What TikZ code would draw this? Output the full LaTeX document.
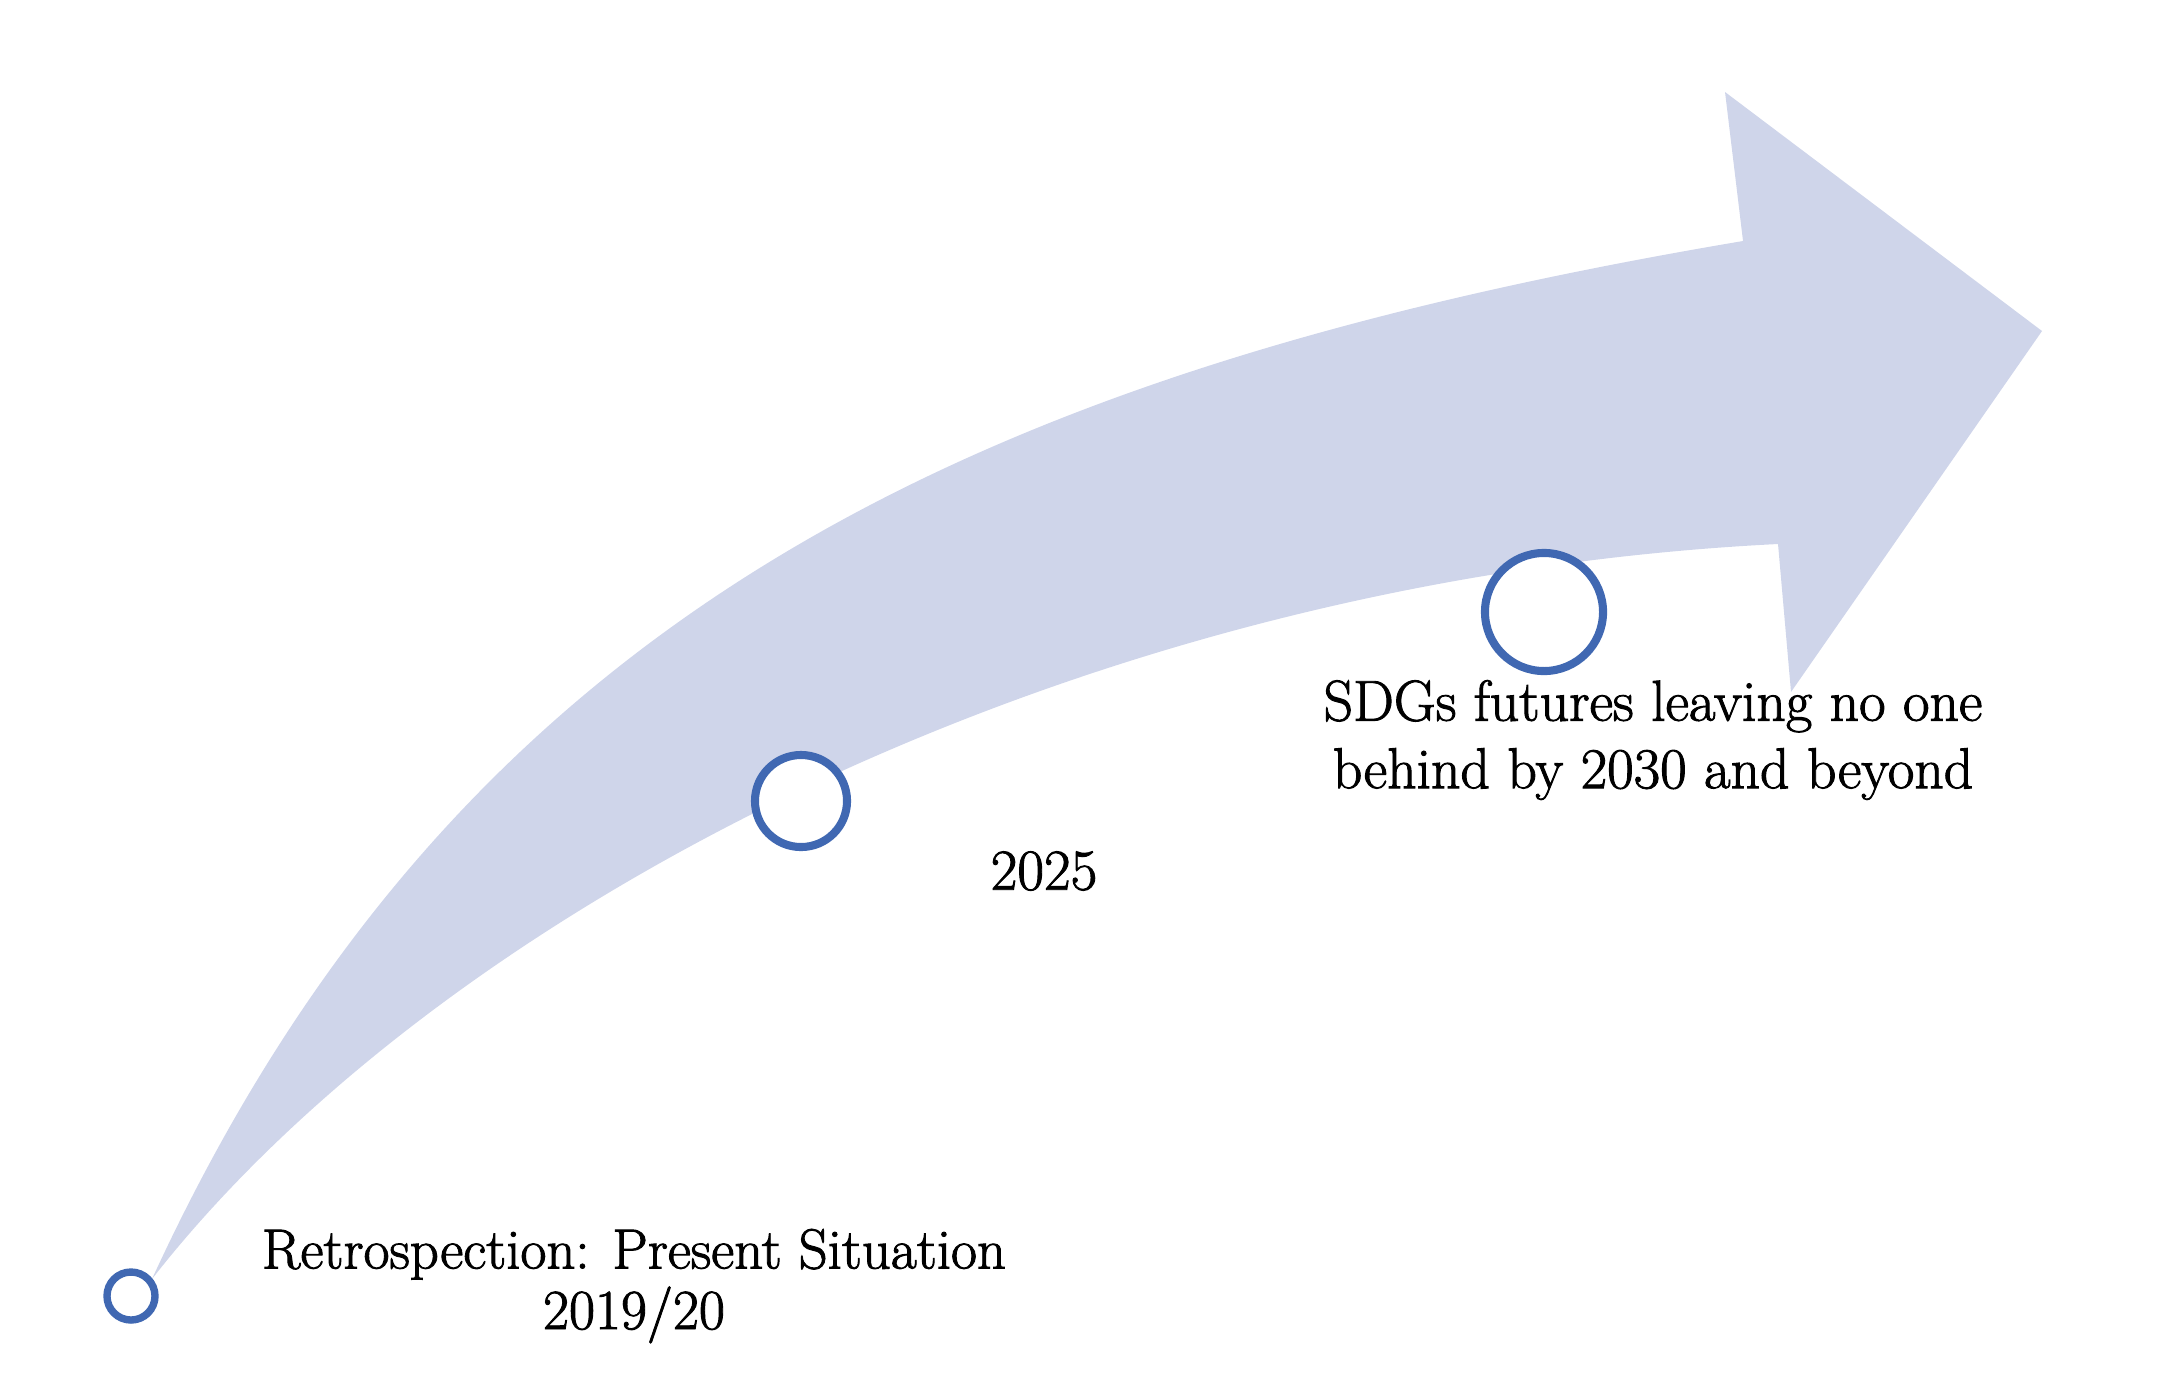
\documentclass[tikz,border=0pt]{standalone}
\usepackage{fontspec}
\newfontfamily\labfont{Latin Modern Roman}[FakeBold=1.6]
\definecolor{arrowfill}{HTML}{CFD5EA}
\definecolor{ringblue}{HTML}{4068B2}
\tikzset{
  ring/.style={circle, draw=ringblue, fill=white, inner sep=0pt},
  label/.style={align=center, inner sep=0pt},
}
\begin{document}
\begin{tikzpicture}[x=0.01cm, y=-0.01cm]
\useasboundingbox (0,0) rectangle (2161,1375);
% curved block arrow
\fill[arrowfill] (152,1279)
  .. controls (455,620) and (965,372) .. (1743,241)
  -- (1725,92) -- (2042,331) -- (1791,692) -- (1778,544)
  .. controls (1075,579) and (441,909) .. (152,1279) -- cycle;
% rings
\node[ring, line width=2.1pt, minimum size=0.48cm] (r1) at (131,1296) {};
\node[ring, line width=2.3pt, minimum size=0.92cm] (r2) at (801,801) {};
\node[ring, line width=2.3pt, minimum size=1.18cm] (r3) at (1544,612) {};
% labels
\node[label, font=\labfont\fontsize{16.1}{17.2}\selectfont] (t1) at (634,1286) {Retrospection: Present Situation\\2019/20};
\node[label, font=\labfont\fontsize{16.5}{19}\selectfont] (t2) at (1044,871) {2025};
\node[label, font=\labfont\fontsize{16.4}{19.2}\selectfont] (t3) at (1653,740) {SDGs futures leaving no one\\behind by 2030 and beyond};
\end{tikzpicture}
\end{document}
